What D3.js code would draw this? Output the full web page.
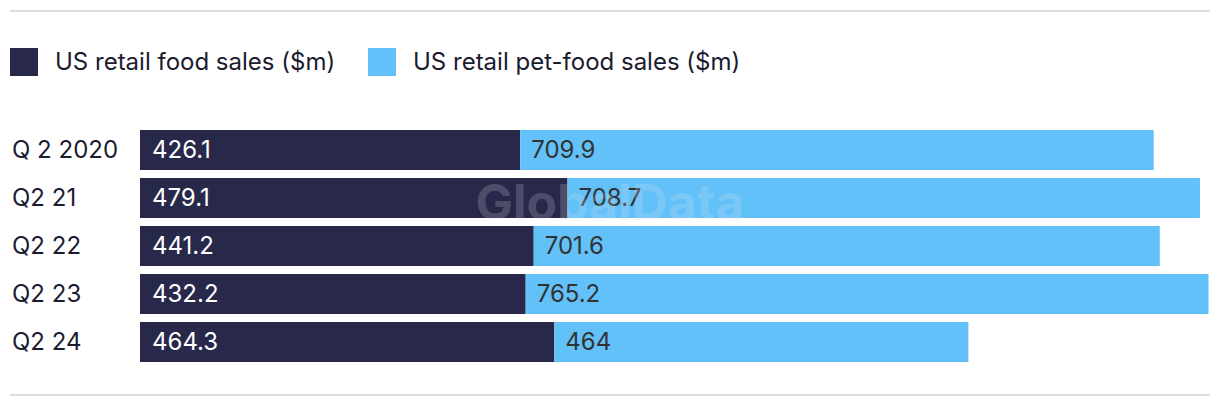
<!DOCTYPE html>
<html><head><meta charset="utf-8">
<script src="https://cdn.jsdelivr.net/npm/d3@7"></script>
<style>body{margin:0;background:#fff;} svg{display:block;font-family:"Inter","Liberation Sans",sans-serif;}</style>
</head><body>
<svg id="c" width="1220" height="408"></svg>
<script>
const categories = ["Q 2 2020", "Q2 21", "Q2 22", "Q2 23", "Q2 24"];
const foodSales = [426.1, 479.1, 441.2, 432.2, 464.3];
const petFoodSales = [709.9, 708.7, 701.6, 765.2, 464];
const seriesNames = ["US retail food sales ($m)", "US retail pet-food sales ($m)"];
const colors = ["#28284b", "#62c1f9"];

const svg = d3.select("#c");
const maxTotal = d3.max(categories, (c, i) => foodSales[i] + petFoodSales[i]);
const x = d3.scaleLinear().domain([0, maxTotal]).range([140, 1208.5]);
const yb = d3.scaleBand().domain(categories).range([130, 130 + 48*5 - 8]).paddingInner(8/48);

// rules
svg.append("line").attr("x1",10).attr("x2",1210).attr("y1",11).attr("y2",11).attr("stroke","#dcdcdc").attr("stroke-width",2);
svg.append("line").attr("x1",10).attr("x2",1210).attr("y1",395).attr("y2",395).attr("stroke","#dcdcdc").attr("stroke-width",2);

// legend
const leg = svg.append("g");
const legX = [10, 368];
seriesNames.forEach((n, i) => {
  leg.append("rect").attr("x", legX[i]).attr("y", 48).attr("width", 28).attr("height", 28).attr("fill", colors[i]);
  leg.append("text").attr("x", legX[i] + 45).attr("y", 62).attr("dy", "0.35em").attr("font-size", 24).attr("fill", "#1b1b2f").text(n);
});

const rows = svg.append("g");
categories.forEach((c, i) => {
  const g = rows.append("g");
  const cy = yb(c) + yb.bandwidth()/2;
  g.append("rect").attr("x", x(0)).attr("y", yb(c)).attr("width", x(foodSales[i]) - x(0)).attr("height", yb.bandwidth()).attr("fill", colors[0]);
  g.append("rect").attr("x", x(foodSales[i])).attr("y", yb(c)).attr("width", x(foodSales[i] + petFoodSales[i]) - x(foodSales[i])).attr("height", yb.bandwidth()).attr("fill", colors[1]);
  g.append("text").attr("x", x(0) + 12).attr("y", cy).attr("dy", "0.35em").attr("font-size", 24).attr("fill", "#ffffff").text(foodSales[i]);
  g.append("text").attr("x", x(foodSales[i]) + 11).attr("y", cy).attr("dy", "0.35em").attr("font-size", 24).attr("fill", "#333333").text(petFoodSales[i]);
  g.append("text").attr("x", 12).attr("y", cy).attr("dy", "0.35em").attr("font-size", 24).attr("fill", "#1b1b2f").text(c);
});

// watermark
svg.append("text").attr("x", 610).attr("y", 202).attr("dy", "0.35em").attr("text-anchor", "middle")
  .attr("font-size", 50).attr("font-weight", "bold").attr("fill", "#e0e0e8").attr("opacity", 0.2).text("GlobalData");
</script>
</body></html>
